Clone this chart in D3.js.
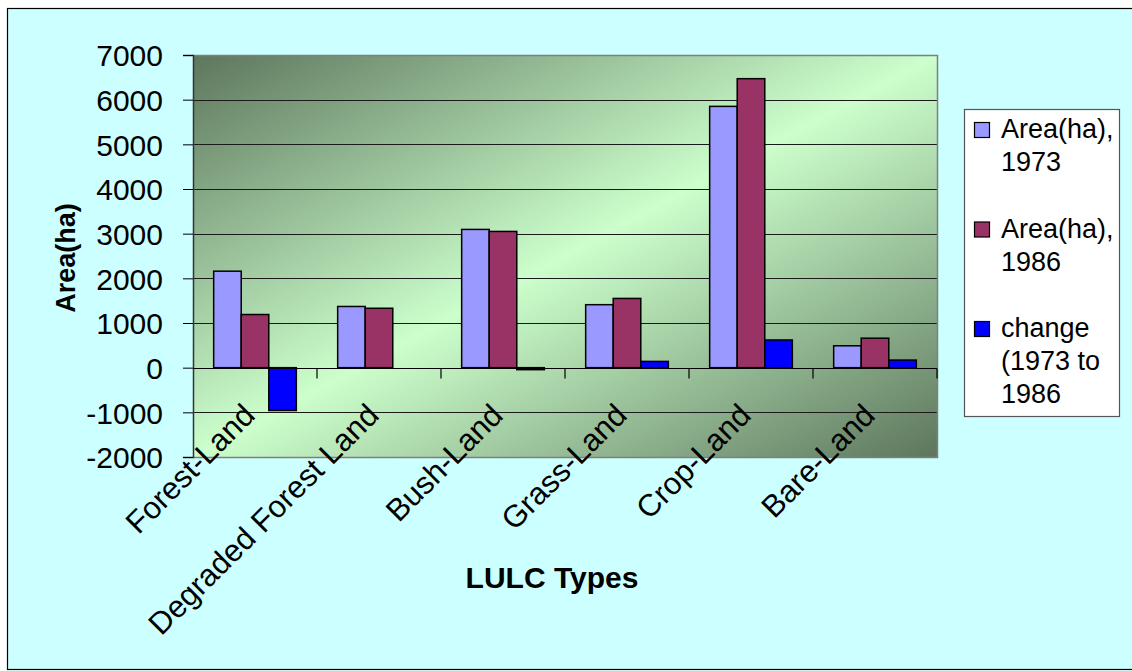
<!DOCTYPE html>
<html>
<head>
<meta charset="utf-8">
<script src="https://cdn.jsdelivr.net/npm/d3@7"></script>
<style>
  body { margin: 0; background: #ffffff; }
  svg text { font-family: "Liberation Sans", Arial, sans-serif; fill: #000; }
</style>
</head>
<body>
<script>
// chart values
const categories = ["Forest-Land", "Degraded Forest Land", "Bush-Land", "Grass-Land", "Crop-Land", "Bare-Land"];
const area1973 = [2160, 1370, 3095, 1410, 5850, 490];
const area1986 = [1190, 1330, 3050, 1550, 6470, 660];
const change = [-960, null, -45, 140, 620, 170];
const seriesNames = [["Area(ha),", "1973"], ["Area(ha),", "1986"], ["change", "(1973 to", "1986"]];
const seriesColors = ["#9999ff", "#993366", "#0000ff"];
const yTicks = [-2000, -1000, 0, 1000, 2000, 3000, 4000, 5000, 6000, 7000];

const W = 1132, H = 671;
const plot = { left: 193, right: 937, top: 55, bottom: 457 };

const svg = d3.select("body").append("svg")
    .attr("width", W)
    .attr("height", H);

// gradient for the plot area
const defs = svg.append("defs");
const grad = defs.append("linearGradient")
    .attr("id", "plotGrad")
    .attr("x1", 0).attr("y1", 0).attr("x2", 1).attr("y2", 1);
grad.append("stop").attr("offset", 0).attr("stop-color", "#5d765d");
grad.append("stop").attr("offset", 0.5).attr("stop-color", "#ccffcc");
grad.append("stop").attr("offset", 1).attr("stop-color", "#5d765d");

// chart background + border
svg.append("rect")
    .attr("x", 7.5).attr("y", 8.5)
    .attr("width", W + 10).attr("height", 661)
    .attr("fill", "#ccffff")
    .attr("stroke", "#000").attr("stroke-width", 1.2);

// scales
const x = d3.scaleBand()
    .domain(categories)
    .range([plot.left, plot.right])
    .padding(0);

const y = d3.scaleLinear()
    .domain([-2000, 7000])
    .range([plot.bottom, plot.top]);

const barW = x.bandwidth() / 4.5;  // gap width 150%
const gapOff = barW * 0.75;

// plot area
svg.append("rect")
    .attr("x", plot.left).attr("y", plot.top)
    .attr("width", plot.right - plot.left)
    .attr("height", plot.bottom - plot.top)
    .attr("fill", "url(#plotGrad)");

// gridlines
svg.append("g")
    .selectAll("line")
    .data(yTicks.filter(d => d > -2000 && d < 7000))
    .join("line")
    .attr("x1", plot.left).attr("x2", plot.right)
    .attr("y1", d => Math.round(y(d)) + 0.5)
    .attr("y2", d => Math.round(y(d)) + 0.5)
    .attr("stroke", "#1a1a1a").attr("stroke-width", 1);

// plot border (top, right, bottom)
svg.append("path")
    .attr("d", `M${plot.left},${plot.top + 0.5}H${plot.right + 0.5}V${plot.bottom + 0.5}H${plot.left}`)
    .attr("fill", "none")
    .attr("stroke", "#7f7f7f").attr("stroke-width", 1.5);

// bars
const series = [area1973, area1986, change];
series.forEach(function(vals, si) {
    svg.append("g")
        .selectAll("rect")
        .data(categories.map((c, i) => ({ cat: c, v: vals[i] })).filter(d => d.v != null))
        .join("rect")
        .attr("x", d => x(d.cat) + gapOff + si * barW)
        .attr("width", barW)
        .attr("y", d => y(Math.max(0, d.v)))
        .attr("height", d => Math.abs(y(d.v) - y(0)))
        .attr("fill", seriesColors[si])
        .attr("stroke", "#000").attr("stroke-width", 1.5);
});

// y axis
const yAxis = svg.append("g")
    .attr("transform", `translate(${plot.left},0)`)
    .call(d3.axisLeft(y).tickValues(yTicks).tickSize(10).tickPadding(20).tickFormat(d => String(d)));
yAxis.select(".domain").attr("stroke", "#333").attr("stroke-width", 1.5);
yAxis.selectAll(".tick line").attr("stroke", "#000");
yAxis.selectAll(".tick text")
    .attr("font-size", 30)
    .attr("dy", "0.36em");

// category axis at zero
const zeroY = Math.round(y(0)) + 0.5;
svg.append("line")
    .attr("x1", plot.left).attr("x2", plot.right)
    .attr("y1", zeroY).attr("y2", zeroY)
    .attr("stroke", "#000").attr("stroke-width", 1.2);
svg.append("g")
    .selectAll("line")
    .data(categories.slice(1).map(c => x(c)).concat([plot.right]))
    .join("line")
    .attr("x1", d => d).attr("x2", d => d)
    .attr("y1", zeroY).attr("y2", zeroY + 10)
    .attr("stroke", "#000").attr("stroke-width", 1.2);

// category labels, rotated
svg.append("g")
    .selectAll("text")
    .data(categories)
    .join("text")
    .attr("transform", d => `translate(${x(d) + x.bandwidth() / 2 - 6},${zeroY + 41}) rotate(-45)`)
    .attr("text-anchor", "end")
    .attr("dy", "0.35em")
    .attr("font-size", 31)
    .text(d => d);

// axis titles
svg.append("text")
    .attr("transform", `translate(75,${(plot.top + plot.bottom) / 2 + 2}) rotate(-90)`)
    .attr("text-anchor", "middle")
    .attr("font-size", 27)
    .attr("font-weight", "bold")
    .text("Area(ha)");

svg.append("text")
    .attr("x", 552)
    .attr("y", 588)
    .attr("text-anchor", "middle")
    .attr("font-size", 30)
    .attr("font-weight", "bold")
    .text("LULC Types");

// legend
const legend = svg.append("g");
legend.append("rect")
    .attr("x", 964.5).attr("y", 109.5)
    .attr("width", 155).attr("height", 307)
    .attr("fill", "#fff")
    .attr("stroke", "#555").attr("stroke-width", 1.2);

seriesNames.forEach(function(lines, i) {
    const base = 138 + i * 99.5;
    legend.append("rect")
        .attr("x", 974.5).attr("y", base - 15.5)
        .attr("width", 15).attr("height", 15)
        .attr("fill", seriesColors[i])
        .attr("stroke", "#000").attr("stroke-width", 1.2);
    legend.append("text")
        .attr("x", 1001)
        .attr("y", base)
        .attr("font-size", 27)
        .selectAll("tspan")
        .data(lines)
        .join("tspan")
        .attr("x", 1001)
        .attr("dy", (d, j) => j === 0 ? 0 : 33)
        .text(d => d);
});
</script>
</body>
</html>
